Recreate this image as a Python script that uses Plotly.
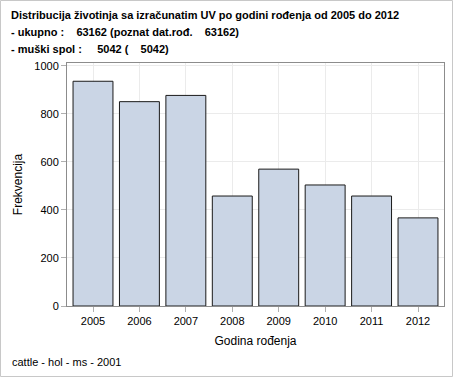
import plotly.graph_objects as go

years = ["2005", "2006", "2007", "2008", "2009", "2010", "2011", "2012"]
counts = [936, 851, 877, 458, 570, 504, 458, 367]
y_ticks = [0, 200, 400, 600, 800, 1000]

W, H = 454, 378
ml, mr, mt, mb = 67, 10, 63, 72
pw, ph = W - ml - mr, H - mt - mb

fig = go.Figure()
fig.add_trace(go.Bar(
    x=years, y=counts,
    marker=dict(color="#CAD5E5", line=dict(color="#1a1a1a", width=1)),
    width=0.86,
))

axis_common = dict(
    showline=True, linecolor="#8c8c8c", linewidth=1, mirror=True,
    ticks="outside", ticklen=5, tickcolor="#b0b0b0",
    showgrid=True, gridcolor="#ebebeb", gridwidth=1,
    tickfont=dict(family="Liberation Sans, Arial", size=11, color="#000"),
    zeroline=False, automargin=False,
)

fig.update_layout(
    width=W, height=H,
    margin=dict(l=ml, r=mr, t=mt, b=mb, autoexpand=False),
    paper_bgcolor="white", plot_bgcolor="white",
    showlegend=False,
    font=dict(family="Liberation Sans, Arial", size=11, color="#000"),
    xaxis=dict(**axis_common, range=[-0.56, 7.56], type="category",
               title=dict(text="Godina rođenja", standoff=10,
                          font=dict(size=12))),
    yaxis=dict(**axis_common, range=[0, 1012], tickvals=y_ticks,
               title=dict(text="Frekvencija", standoff=9,
                          font=dict(size=12))),
)

def px(x):
    return (x - ml) / pw

def py(y):
    return 1 - (y - mt) / ph

# outer frame
fig.add_shape(type="rect", xref="paper", yref="paper",
              x0=px(0.5), x1=px(W - 1.5), y0=py(H - 1.5), y1=py(0.5),
              line=dict(color="#c8c8c8", width=1), layer="below")

title_lines = [
    ("Distribucija životinja sa izračunatim UV po godini rođenja od 2005 do 2012", 15.5),
    ("- ukupno :    63162 (poznat dat.rođ.    63162)", 32),
    ("- muški spol :     5042 (    5042)", 48.5),
]
for txt, yc in title_lines:
    fig.add_annotation(text="<b>" + txt.replace("  ", "&nbsp; ") + "</b>",
                       xref="paper", yref="paper",
                       x=px(9), y=py(yc), xanchor="left", yanchor="middle",
                       showarrow=False,
                       font=dict(family="Liberation Sans, Arial", size=11, color="#000"))

fig.add_annotation(text="cattle - hol - ms - 2001", xref="paper", yref="paper",
                   x=px(10), y=py(362), xanchor="left", yanchor="middle",
                   showarrow=False,
                   font=dict(family="Liberation Sans, Arial", size=11, color="#000"))

fig.write_html("out.html", config={"displayModeBar": False},
               post_script="document.body.style.margin='0';document.body.style.padding='0';")
